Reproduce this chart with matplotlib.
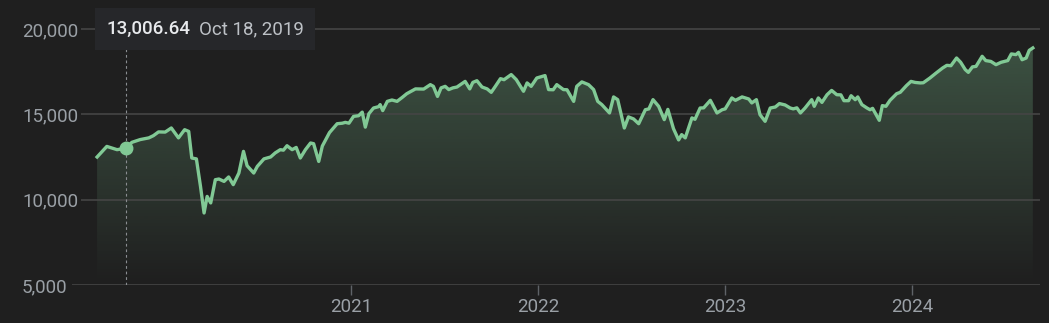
import numpy as np
import pandas as pd
import matplotlib
matplotlib.use("Agg")
import matplotlib.pyplot as plt
import matplotlib.dates as mdates
from matplotlib.patches import Rectangle
from matplotlib.ticker import FuncFormatter

plt.rcParams['font.family'] = ['Roboto', 'DejaVu Sans']

# weekly-ish closes
dates = [
    "2019-08-23", "2019-09-11", "2019-10-01", "2019-10-18", "2019-10-30", "2019-11-15",
    "2019-12-02", "2019-12-11", "2019-12-21",
    "2020-01-03", "2020-01-15", "2020-01-29", "2020-02-10", "2020-02-18", "2020-02-24",
    "2020-03-04", "2020-03-12", "2020-03-19", "2020-03-25", "2020-04-01", "2020-04-10",
    "2020-04-17", "2020-04-27", "2020-05-06", "2020-05-15", "2020-05-26", "2020-06-04",
    "2020-06-11", "2020-06-24", "2020-07-01", "2020-07-14", "2020-07-27", "2020-08-05",
    "2020-08-15", "2020-08-21", "2020-08-28", "2020-09-07", "2020-09-15", "2020-09-23",
    "2020-10-03", "2020-10-13", "2020-10-19", "2020-10-29", "2020-11-05", "2020-11-19",
    "2020-12-04", "2020-12-14", "2020-12-20", "2020-12-27",
    "2021-01-05", "2021-01-15", "2021-01-22", "2021-01-28", "2021-02-04", "2021-02-13",
    "2021-02-23", "2021-02-26", "2021-03-03", "2021-03-12", "2021-03-21", "2021-03-31",
    "2021-04-10", "2021-04-19", "2021-05-06", "2021-05-22", "2021-06-04", "2021-06-10",
    "2021-06-18", "2021-06-25", "2021-07-03", "2021-07-10", "2021-07-18", "2021-07-26",
    "2021-08-11", "2021-08-20", "2021-08-26", "2021-09-03", "2021-09-13", "2021-09-23",
    "2021-10-01", "2021-10-09", "2021-10-19", "2021-10-26", "2021-11-09", "2021-11-19",
    "2021-12-03", "2021-12-10", "2021-12-18", "2021-12-29",
    "2022-01-14", "2022-01-21", "2022-01-30", "2022-02-06", "2022-02-19", "2022-02-26",
    "2022-03-11", "2022-03-17", "2022-03-27", "2022-04-09", "2022-04-19", "2022-04-27",
    "2022-05-05", "2022-05-20", "2022-05-28", "2022-06-05", "2022-06-18", "2022-06-26",
    "2022-07-06", "2022-07-16", "2022-07-29", "2022-08-05", "2022-08-13", "2022-08-24",
    "2022-09-04", "2022-09-11", "2022-09-22", "2022-10-02", "2022-10-08", "2022-10-15",
    "2022-10-28", "2022-11-03", "2022-11-13", "2022-11-20", "2022-12-03", "2022-12-16",
    "2022-12-26",
    "2023-01-01", "2023-01-14", "2023-01-21", "2023-02-03", "2023-02-16", "2023-02-22",
    "2023-03-03", "2023-03-10", "2023-03-20", "2023-03-30", "2023-04-09", "2023-04-17",
    "2023-04-28", "2023-05-08", "2023-05-14", "2023-05-21", "2023-05-28", "2023-06-06",
    "2023-06-19", "2023-06-24", "2023-07-02", "2023-07-09", "2023-07-19", "2023-07-28",
    "2023-08-07", "2023-08-15", "2023-08-21", "2023-08-30", "2023-09-04", "2023-09-12",
    "2023-09-17", "2023-09-25", "2023-10-05", "2023-10-11", "2023-10-16", "2023-10-29",
    "2023-11-04", "2023-11-11", "2023-11-19", "2023-12-02", "2023-12-09", "2023-12-21",
    "2023-12-30",
    "2024-01-07", "2024-01-17", "2024-01-23", "2024-02-05", "2024-02-17", "2024-03-01",
    "2024-03-09", "2024-03-17", "2024-03-28", "2024-04-05", "2024-04-14", "2024-04-20",
    "2024-04-28", "2024-05-05", "2024-05-17", "2024-05-24", "2024-06-03", "2024-06-13",
    "2024-06-23", "2024-07-06", "2024-07-13", "2024-07-22", "2024-07-27", "2024-08-03",
    "2024-08-11", "2024-08-17", "2024-08-24",
]
values = [
    12500, 13120, 12930, 13006.64, 13360, 13520, 13620, 13750, 13970,
    13960, 14200, 13620, 14100, 14000, 12440, 12390, 10780, 9220, 10190, 9810, 11170,
    11210, 11070, 11330, 10880, 11560, 12830, 11990, 11560, 11950, 12390, 12500, 12740,
    12930, 12900, 13160, 12930, 13060, 12440, 12930, 13320, 13280, 12240, 13140, 13930,
    14450, 14480, 14530, 14480,
    14880, 14920, 15130, 14250, 15040, 15370, 15450, 15570, 15220, 15760, 15840, 15760,
    15990, 16210, 16490, 16480, 16740, 16640, 16050, 16550, 16640, 16450, 16550, 16600,
    16930, 16490, 16870, 16970, 16600, 16490, 16290, 16640, 17090, 17030, 17330, 17030,
    16350, 16840, 16640, 17130,
    17270, 16450, 16440, 16740, 16450, 16440, 15760, 16640, 16900, 16740, 16450, 15760,
    15570, 15080, 16020, 15860, 14200, 14850, 14730, 14450, 15270, 15320, 15860, 15470,
    14690, 15290, 14160, 13500, 13810, 13620, 14790, 14710, 15370, 15380, 15820, 15080,
    15270,
    15320, 15960, 15820, 16020, 15900, 15670, 15860, 14980, 14590, 15370, 15430, 15630,
    15550, 15370, 15320, 15380, 15080, 15370, 15860, 15470, 15960, 15700, 16150, 16400,
    16150, 16140, 15800, 15800, 16090, 15860, 16020, 15570, 15370, 15270, 15350, 14650,
    15510, 15470, 15820, 16210, 16290, 16680, 16930,
    16870, 16840, 16850, 17130, 17420, 17720, 17870, 17850, 18300, 18050, 17620, 17460,
    17780, 17810, 18400, 18150, 18100, 17910, 18050, 18150, 18540, 18500, 18630, 18200,
    18300, 18750, 18890,
]
y_ticks = [5000, 10000, 15000, 20000]
year_ticks = ["2021", "2022", "2023", "2024"]
tip_date = "2019-10-18"
tip_value = 13006.64
tip_label = "Oct 18, 2019"

BG = '#1f1f1f'
GREEN = '#81c995'
GRID = '#454545'
LABEL = '#9aa0a6'

W, H = 1049, 323
fig = plt.figure(figsize=(W / 100, H / 100), dpi=100, facecolor=BG)
# axes box in pixels: left 72, right 1040, top 10, bottom 285
ax = fig.add_axes([72 / W, (H - 285) / H, (1040 - 72) / W, (285 - 10) / H])
ax.set_facecolor(BG)

x = mdates.date2num(pd.to_datetime(dates))
v = np.array(values)

ymin = 5000
ymax = 20000 + 19 * (15000 / 256)
ax.set_ylim(ymin, ymax)
ax.set_xlim(mdates.date2num(pd.Timestamp("2019-07-05")),
            mdates.date2num(pd.Timestamp("2024-09-07")))

# gradient fill under the line
poly = ax.fill_between(x, v, ymin, facecolor='none', edgecolor='none')
grad_top = 18900
yy = np.linspace(ymin, grad_top, 300)
alpha = 0.3 * (yy - ymin) / (grad_top - ymin)
rgba = np.zeros((300, 1, 4))
rgba[..., :3] = matplotlib.colors.to_rgb(GREEN)
rgba[:, 0, 3] = alpha
img = ax.imshow(rgba, aspect='auto', origin='lower', interpolation='bilinear',
                extent=[x.min(), x.max(), ymin, grad_top], zorder=1)
img.set_clip_path(poly.get_paths()[0], transform=ax.transData)

ax.plot(x, v, color=GREEN, lw=2.4, zorder=3, solid_joinstyle='round')

# hover marker
tx = mdates.date2num(pd.Timestamp(tip_date))
ax.axvline(tx, color='#8a8d91', lw=0.8, ls=(0, (2.5, 2.5)), zorder=2)
ax.plot([tx], [tip_value], 'o', color=GREEN, ms=9, zorder=4)

for s in ax.spines.values():
    s.set_visible(False)

ax.set_yticks(y_ticks)
ax.yaxis.set_major_formatter(FuncFormatter(lambda val, p: f"{int(val):,}"))
ax.yaxis.grid(True, color=GRID, lw=1.2)
ax.tick_params(axis='y', length=0, pad=36, labelsize=13.5, labelcolor=LABEL)
for lab in ax.get_yticklabels():
    lab.set_horizontalalignment('left')
    lab.set_bbox(dict(facecolor=BG, edgecolor='none', pad=2))

ax.set_xticks(mdates.date2num(pd.to_datetime(year_ticks)))
ax.set_xticklabels(year_ticks)
ax.tick_params(axis='x', length=7, width=1, color='#5f6368', pad=2.5,
               labelsize=13.5, labelcolor=LABEL)

# tooltip box
fig.add_artist(Rectangle((95 / W, 1 - 50 / H), 220 / W, 42 / H, transform=fig.transFigure,
                         facecolor='#26272a', edgecolor='none', zorder=5))
fig.text(106 / W, 1 - 29 / H, f"{tip_value:,.2f}", color='#e8eaed', fontsize=13.5,
         fontweight='medium', va='center', ha='left', zorder=6)
fig.text(199 / W, 1 - 29 / H, tip_label, color='#bdc1c6', fontsize=13.5,
         va='center', ha='left', zorder=6)

fig.savefig('out.png', dpi=100, facecolor=BG)
